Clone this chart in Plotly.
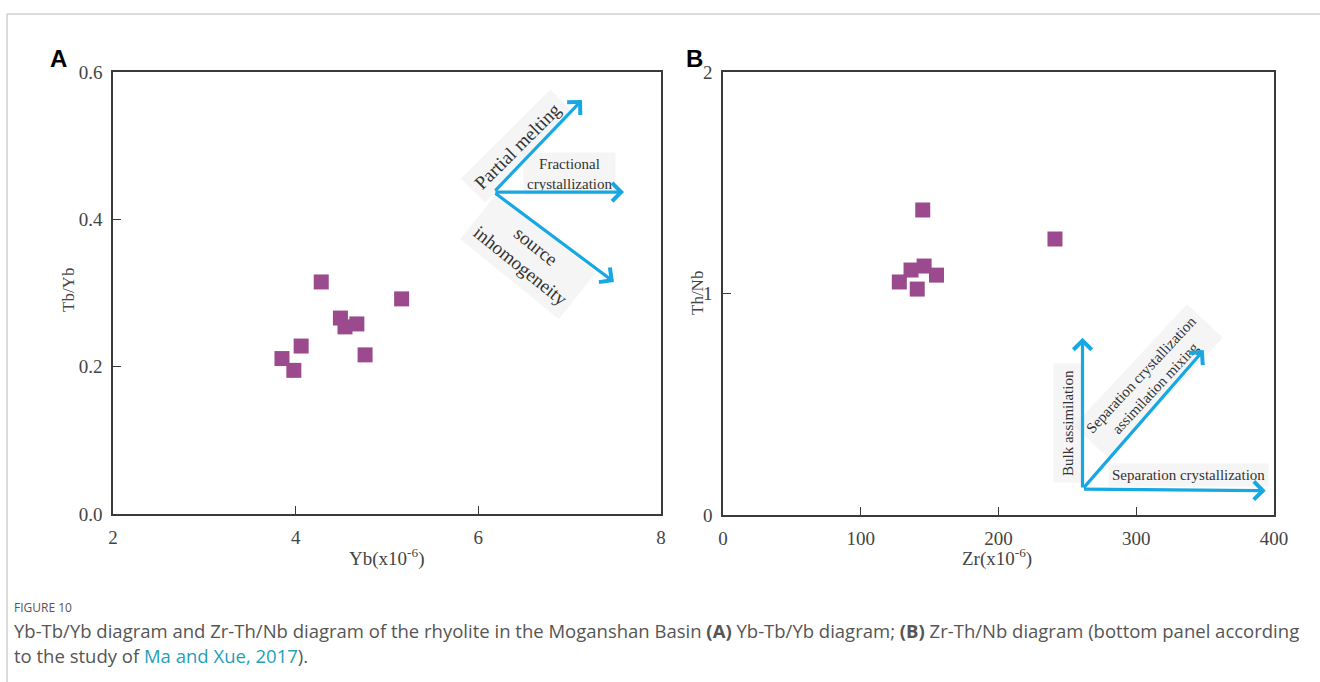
import plotly.graph_objects as go

# ---- data (panel A: Yb vs Tb/Yb) ----
yb = [3.85, 3.98, 4.06, 4.28, 4.49, 4.54, 4.67, 4.76, 5.16]
tb_yb = [0.211, 0.195, 0.228, 0.315, 0.266, 0.254, 0.258, 0.216, 0.292]

# ---- data (panel B: Zr vs Th/Nb) ----
zr = [128, 136.5, 146, 155, 141, 145, 241]
th_nb = [1.052, 1.106, 1.124, 1.083, 1.020, 1.377, 1.246]

# ---- trend arrows (origin, tips) in data units ----
a_origin = [6.17, 0.437]
a_tips = [[7.135, 0.562], [7.595, 0.437], [7.485, 0.315]]
b_origin = [261, 0.117]
b_tips = [[261, 0.80], [349, 0.745], [394, 0.11]]

a_xticks = [2, 4, 6, 8]
a_yticks = [0.0, 0.2, 0.4, 0.6]
b_xticks = [0, 100, 200, 300, 400]
b_yticks = [0, 1, 2]

W, H = 1320, 682
MARK = "#9B4B8D"
CYAN = "#17A8E3"
FRAME = "#3a3a3a"
SERIF = "Liberation Serif"
PATCH = "rgba(236,236,236,0.5)"


def px(x):
    return x / W


def py(y):
    return 1 - y / H


fig = go.Figure()
fig.add_trace(go.Scatter(x=yb, y=tb_yb, mode="markers", xaxis="x", yaxis="y",
                         marker=dict(symbol="square", size=15, color=MARK,
                                     line=dict(width=0)), showlegend=False))
fig.add_trace(go.Scatter(x=zr, y=th_nb, mode="markers", xaxis="x2", yaxis="y2",
                         marker=dict(symbol="square", size=15, color=MARK,
                                     line=dict(width=0)), showlegend=False))

axis_common = dict(showline=True, mirror=True, linecolor=FRAME, linewidth=1.6,
                   ticks="inside", ticklen=8, tickwidth=1.4, tickcolor=FRAME,
                   showgrid=False, zeroline=False, ticklabelstandoff=5,
                   automargin=False,
                   tickfont=dict(family=SERIF, size=19, color="#444"))

fig.update_layout(
    width=W, height=H, margin=dict(l=0, r=0, t=0, b=0, autoexpand=False),
    paper_bgcolor="white", plot_bgcolor="white",
    xaxis=dict(domain=[px(113), px(661)], range=[2, 8], tickvals=a_xticks,
               ticktext=[str(v) for v in a_xticks], anchor="y", **axis_common),
    yaxis=dict(domain=[py(514), py(72)], range=[0, 0.6], tickvals=a_yticks,
               ticktext=[f"{v:.1f}" for v in a_yticks], anchor="x", **axis_common),
    xaxis2=dict(domain=[px(723), px(1274)], range=[0, 400], tickvals=b_xticks,
                ticktext=[str(v) for v in b_xticks], anchor="y2", **axis_common),
    yaxis2=dict(domain=[py(515), py(72)], range=[0, 2], tickvals=b_yticks,
                ticktext=[str(v) for v in b_yticks], anchor="x2", **axis_common),
)


def txt(x, y, text, size, angle=0, color="#333", family=SERIF, bg=None, pad=3,
        xanchor="center"):
    d = dict(x=px(x), y=py(y), xref="paper", yref="paper", text=text,
             textangle=angle, showarrow=False, xanchor=xanchor, yanchor="middle",
             font=dict(family=family, size=size, color=color))
    if bg:
        d["bgcolor"] = bg
        d["borderpad"] = pad
    return d


ann = []
# panel A labels (drawn first so arrows sit on top of their pale patches)
ann += [
    txt(517, 146, "Partial melting", 19, -45, bg=PATCH, pad=6),
    txt(569, 174, "Fractional<br>crystallization", 15, bg=PATCH, pad=3),
    txt(528, 256, "source<br>inhomogeneity", 19, 39, bg=PATCH, pad=6),
]
# panel B labels
ann += [
    txt(1068, 423, "Bulk assimilation", 15, -90, bg=PATCH, pad=6),
    txt(1148, 382, "Separation crystallization<br>assimilation mixing", 15, -47,
        bg=PATCH, pad=6),
    txt(1188, 475, "Separation crystallization", 15, bg=PATCH, pad=3),
]
# arrows
for tip in a_tips:
    ann.append(dict(x=tip[0], y=tip[1], ax=a_origin[0], ay=a_origin[1],
                    xref="x", yref="y", axref="x", ayref="y", text="",
                    showarrow=True, arrowhead=4, arrowsize=1.1, arrowwidth=3.2,
                    arrowcolor=CYAN, standoff=0, startstandoff=0))
for tip in b_tips:
    ann.append(dict(x=tip[0], y=tip[1], ax=b_origin[0], ay=b_origin[1],
                    xref="x2", yref="y2", axref="x2", ayref="y2", text="",
                    showarrow=True, arrowhead=4, arrowsize=1.1, arrowwidth=3.2,
                    arrowcolor=CYAN, standoff=0, startstandoff=0))
# axis titles
ann += [
    txt(387, 557, "Yb(x10<sup>-6</sup>)", 19, color="#444"),
    txt(997, 557, "Zr(x10<sup>-6</sup>)", 19, color="#444"),
    txt(68, 290, "Tb/Yb", 17, -90, color="#444"),
    txt(697, 293, "Th/Nb", 17, -90, color="#444"),
]
# panel letters
ann += [
    txt(58, 58, "<b>A</b>", 24, color="black", family="Liberation Sans"),
    txt(694, 58, "<b>B</b>", 24, color="black", family="Liberation Sans"),
]
# caption
CAP = "Open Sans"
ann += [
    txt(12, 607, "FIGURE 10", 12, color="#555", family=CAP, xanchor="left"),
    txt(12, 630, "Yb-Tb/Yb diagram and Zr-Th/Nb diagram of the rhyolite in the Moganshan Basin "
                 "<b>(A)</b> Yb-Tb/Yb diagram; <b>(B)</b> Zr-Th/Nb diagram (bottom panel according",
        18.5, color="#555", family=CAP, xanchor="left"),
    txt(12, 655, "to the study of <span style='color:#1F9FB8'>Ma and Xue, 2017</span>).",
        18.5, color="#555", family=CAP, xanchor="left"),
]
fig.update_layout(annotations=ann)

# page border lines
fig.update_layout(shapes=[
    dict(type="line", xref="paper", yref="paper", x0=px(7), x1=1, y0=py(14), y1=py(14),
         line=dict(color="#cfcfcf", width=1.5)),
    dict(type="line", xref="paper", yref="paper", x0=px(7), x1=px(7), y0=py(14), y1=0,
         line=dict(color="#cfcfcf", width=1.5)),
])

fig.write_html("out.html")
